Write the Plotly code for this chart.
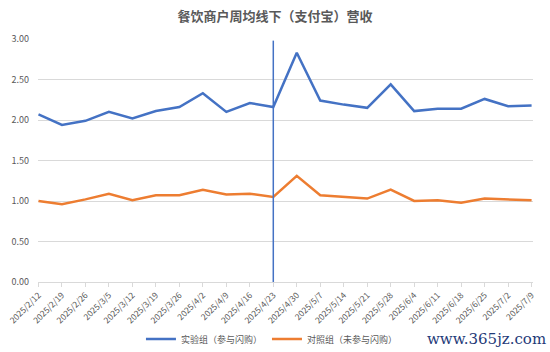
import plotly.graph_objects as go

dates = ["2025/2/12", "2025/2/19", "2025/2/26", "2025/3/5", "2025/3/12", "2025/3/19",
         "2025/3/26", "2025/4/2", "2025/4/9", "2025/4/16", "2025/4/23", "2025/4/30",
         "2025/5/7", "2025/5/14", "2025/5/21", "2025/5/28", "2025/6/4", "2025/6/11",
         "2025/6/18", "2025/6/25", "2025/7/2", "2025/7/9"]
treatment = [2.07, 1.94, 1.99, 2.10, 2.02, 2.11, 2.16, 2.33, 2.10, 2.21, 2.16, 2.83,
             2.24, 2.19, 2.15, 2.44, 2.11, 2.14, 2.14, 2.26, 2.17, 2.18]
control = [1.00, 0.96, 1.02, 1.09, 1.01, 1.07, 1.07, 1.14, 1.08, 1.09, 1.05, 1.31,
           1.07, 1.05, 1.03, 1.14, 1.00, 1.01, 0.98, 1.03, 1.02, 1.01]
event_date = "2025/4/23"
yticks = [0, 0.5, 1.0, 1.5, 2.0, 2.5, 3.0]

FONT = "Noto Sans CJK SC"
fig = go.Figure()
fig.add_trace(go.Scatter(x=dates, y=treatment, mode="lines", name="实验组（参与闪购）",
                         line=dict(color="#4472C4", width=2.5)))
fig.add_trace(go.Scatter(x=dates, y=control, mode="lines", name="对照组（未参与闪购）",
                         line=dict(color="#ED7D31", width=2.5)))

fig.add_shape(type="line", xref="x", yref="y", x0=event_date, x1=event_date, y0=0, y1=2.98,
              line=dict(color="#4472C4", width=1.5))

fig.update_layout(
    width=550, height=352,
    margin=dict(l=38, r=17, t=39, b=70, autoexpand=False),
    paper_bgcolor="white", plot_bgcolor="white",
    font=dict(family=FONT, color="#595959", size=9),
    title=dict(text="<b>餐饮商户周均线下（支付宝）营收</b>", x=0.5, xanchor="center",
               y=0.952, yanchor="middle", font=dict(size=13, color="#595959", family=FONT)),
    showlegend=True,
    legend=dict(orientation="h", x=0.208, xanchor="left", y=-0.235, yanchor="middle",
                font=dict(size=9, color="#595959", family=FONT), itemwidth=30,
                bgcolor="rgba(0,0,0,0)", tracegroupgap=0),
    xaxis=dict(type="category", categoryorder="array", categoryarray=dates,
               range=[-0.02, 21.06], tickangle=-45, tickfont=dict(size=8.5, color="#595959"),
               showgrid=False, showline=True, linecolor="#D9D9D9", linewidth=1,
               ticks="outside", ticklen=4, tickcolor="#D9D9D9", zeroline=False,
               automargin=False),
    yaxis=dict(range=[0, 3.0], tickvals=yticks, tickformat=".2f",
               tickfont=dict(size=9, color="#595959"), automargin=False,
               showgrid=True, gridcolor="#D9D9D9", gridwidth=1, zeroline=False,
               showline=False, ticks="", ticklabelstandoff=8),
)

fig.add_annotation(text="www.365jz.com", xref="paper", yref="paper", x=1.03, y=-0.235,
                   xanchor="right", yanchor="middle", showarrow=False,
                   font=dict(family="DejaVu Serif", size=15, color="#1F3A78"))

fig.write_html("out.html")
